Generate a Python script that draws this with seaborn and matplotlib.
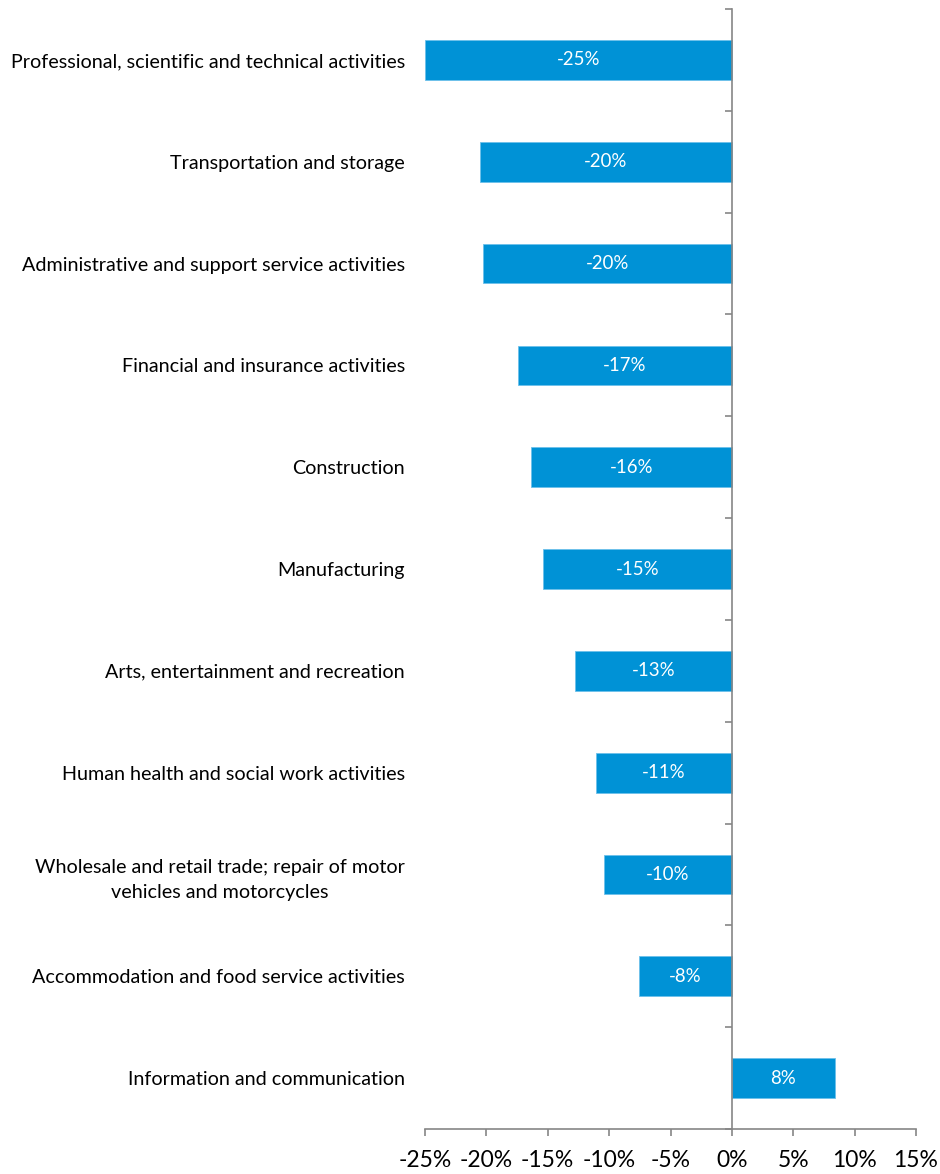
import matplotlib
matplotlib.use("Agg")
import matplotlib.pyplot as plt
from matplotlib.ticker import FuncFormatter
import seaborn as sns
import pandas as pd

sectors = [
    "Professional, scientific and technical activities",
    "Transportation and storage",
    "Administrative and support service activities",
    "Financial and insurance activities",
    "Construction",
    "Manufacturing",
    "Arts, entertainment and recreation",
    "Human health and social work activities",
    "Wholesale and retail trade; repair of motor\nvehicles and motorcycles",
    "Accommodation and food service activities",
    "Information and communication",
]
change_pct = [-25.0, -20.5, -20.3, -17.4, -16.4, -15.4, -12.8, -11.1, -10.4, -7.6, 8.4]
x_ticks = [-25, -20, -15, -10, -5, 0, 5, 10, 15]

BAR = "#0092D6"
AXIS = "#868686"

sns.set_theme(style="white")
plt.rcParams["font.family"] = ["Lato", "DejaVu Sans"]

df = pd.DataFrame({"sector": sectors, "change": change_pct})

fig = plt.figure(figsize=(9.4, 11.74), dpi=100)
ax = fig.add_axes([0.4521, 0.0383, 0.5224, 0.954])

sns.barplot(data=df, x="change", y="sector", orient="h", color=BAR,
            saturation=1, width=0.39, edgecolor="#6DC0EA", linewidth=0.6, ax=ax)

ax.set_xlim(-25, 15)
ax.set_ylim(len(sectors) - 0.5, -0.5)
ax.set_xlabel("")
ax.set_ylabel("")

# value labels inside the bars
ax.bar_label(ax.containers[0], labels=[f"{v:.0f}%" for v in change_pct],
             label_type="center", color="white", fontsize=13.4)

# x axis along the bottom
ax.set_xticks(x_ticks)
ax.xaxis.set_major_formatter(FuncFormatter(lambda v, p: f"{v:.0f}%"))
ax.tick_params(axis="x", bottom=True, length=5, width=1.2, color=AXIS,
               labelsize=16.5, pad=10, labelcolor="black")
for s in ["top", "right"]:
    ax.spines[s].set_visible(False)
ax.spines["bottom"].set_color(AXIS)
ax.spines["bottom"].set_linewidth(1.2)

# vertical axis through zero; category labels sit at the left edge
ax.spines["left"].set_position(("data", 0))
ax.spines["left"].set_color(AXIS)
ax.spines["left"].set_linewidth(1.2)
ax.set_yticks([i + 0.5 for i in range(-1, len(sectors))], minor=True)
ax.tick_params(axis="y", which="minor", left=True, length=5, width=1.2,
               color=AXIS)
ax.tick_params(axis="y", which="major", left=True, length=0, pad=235.4,
               labelsize=14.2, labelcolor="black")
for lab in ax.get_yticklabels():
    lab.set_multialignment("center")
    lab.set_linespacing(1.55)

fig.savefig("out.png", dpi=100)
